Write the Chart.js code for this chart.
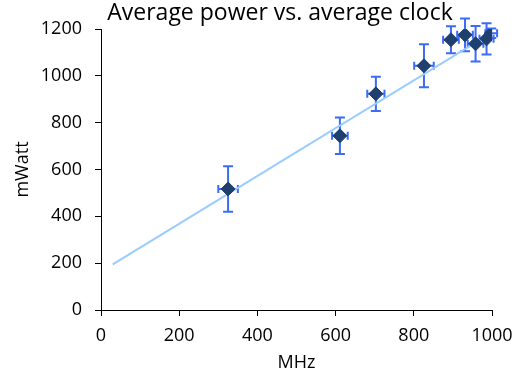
<!DOCTYPE html>
<html>
<head>
<meta charset="utf-8">
<script src="https://cdn.jsdelivr.net/npm/chart.js@4"></script>
<style>
  html, body { margin: 0; padding: 0; background: #fff; }
  #wrap { width: 523px; height: 374px; }
</style>
</head>
<body>
<div id="wrap"><canvas id="myChart" width="523" height="374"></canvas></div>
<script>
// average clock (MHz) and average power (mW) per run
const clockMHz = [325, 611, 703, 826, 895, 931, 958, 986, 998];
const powerMw  = [517, 744, 923, 1043, 1154, 1175, 1137, 1158, 1182];
const clockErr = [25, 20, 22, 25, 20, 20, 20, 18, 15];
const powerErr = [97, 78, 73, 92, 58, 70, 76, 67, 20];
// linear trend line ends
const trendX = [30, 1000];
const trendY = [195, 1185];
const xTicks = [0, 200, 400, 600, 800, 1000];
const yTicks = [0, 200, 400, 600, 800, 1000, 1200];
const chartTitle = "Average power vs. average clock";

const FONT = "'Open Sans', sans-serif";

// draws the x / y error bars behind the markers
const errorBars = {
  id: "errorBars",
  beforeDatasetsDraw(chart) {
    const ctx = chart.ctx, xs = chart.scales.x, ys = chart.scales.y;
    ctx.save();
    ctx.strokeStyle = "#3b6cf5";
    ctx.lineWidth = 2;
    for (let i = 0; i < clockMHz.length; i++) {
      const px = xs.getPixelForValue(clockMHz[i]);
      const py = ys.getPixelForValue(powerMw[i]);
      const top = ys.getPixelForValue(powerMw[i] + powerErr[i]);
      const bot = ys.getPixelForValue(powerMw[i] - powerErr[i]);
      const l = xs.getPixelForValue(clockMHz[i] - clockErr[i]);
      const r = xs.getPixelForValue(clockMHz[i] + clockErr[i]);
      ctx.beginPath();
      ctx.moveTo(px, top); ctx.lineTo(px, bot);
      ctx.moveTo(px - 5, top); ctx.lineTo(px + 5, top);
      ctx.moveTo(px - 5, bot); ctx.lineTo(px + 5, bot);
      ctx.moveTo(l, py); ctx.lineTo(r, py);
      ctx.moveTo(l, py - 4); ctx.lineTo(l, py + 4);
      ctx.moveTo(r, py - 4); ctx.lineTo(r, py + 4);
      ctx.stroke();
    }
    ctx.restore();
  }
};

// title sits a bit right of the canvas centre, as in the original
const titleText = {
  id: "titleText",
  afterDraw(chart) {
    const ctx = chart.ctx;
    ctx.save();
    ctx.fillStyle = "#000";
    ctx.font = "23px " + FONT;
    ctx.textAlign = "center";
    ctx.textBaseline = "middle";
    ctx.fillText(chartTitle, 280, 13);
    ctx.restore();
  }
};

new Chart("myChart", {
  type: "scatter",
  data: {
    datasets: [{
      data: trendX.map((x, i) => ({x: x, y: trendY[i]})),
      showLine: true,
      borderColor: "#99ccff",
      borderWidth: 2,
      pointRadius: 0,
      order: 2
    }, {
      data: clockMHz.map((x, i) => ({x: x, y: powerMw[i]})),
      pointStyle: "rectRot",
      pointRadius: 7,
      backgroundColor: "#1f3f6e",
      borderColor: "#1f3f6e",
      borderWidth: 1,
      order: 1
    }]
  },
  plugins: [errorBars, titleText],
  options: {
    responsive: false,
    animation: false,
    layout: {padding: {left: 0, right: 31, top: 29, bottom: 0}},
    plugins: {
      legend: {display: false},
      tooltip: {enabled: false},
      title: {display: false}
    },
    scales: {
      x: {
        type: "linear",
        min: 0, max: 1000,
        afterBuildTicks: s => { s.ticks = xTicks.map(v => ({value: v})); },
        afterFit: s => { s.height = 64; },
        grid: {drawOnChartArea: false, color: "#000", tickLength: 6},
        border: {color: "#000", width: 1},
        ticks: {color: "#000", font: {family: FONT, size: 18}, padding: 9,
                callback: v => String(v)},
        title: {display: true, text: "MHz", color: "#000",
                font: {family: FONT, size: 18}, padding: 0}
      },
      y: {
        type: "linear",
        min: 0, max: 1200,
        afterBuildTicks: s => { s.ticks = yTicks.map(v => ({value: v})); },
        afterFit: s => { s.width = 101; },
        grid: {drawOnChartArea: false, color: "#000", tickLength: 6},
        border: {color: "#000", width: 1},
        ticks: {color: "#000", font: {family: FONT, size: 18}, padding: 13,
                callback: v => String(v)},
        title: {display: true, text: "mWatt", color: "#000",
                font: {family: FONT, size: 18}, padding: {top: 12, bottom: 0}}
      }
    }
  }
});
</script>
</body>
</html>
